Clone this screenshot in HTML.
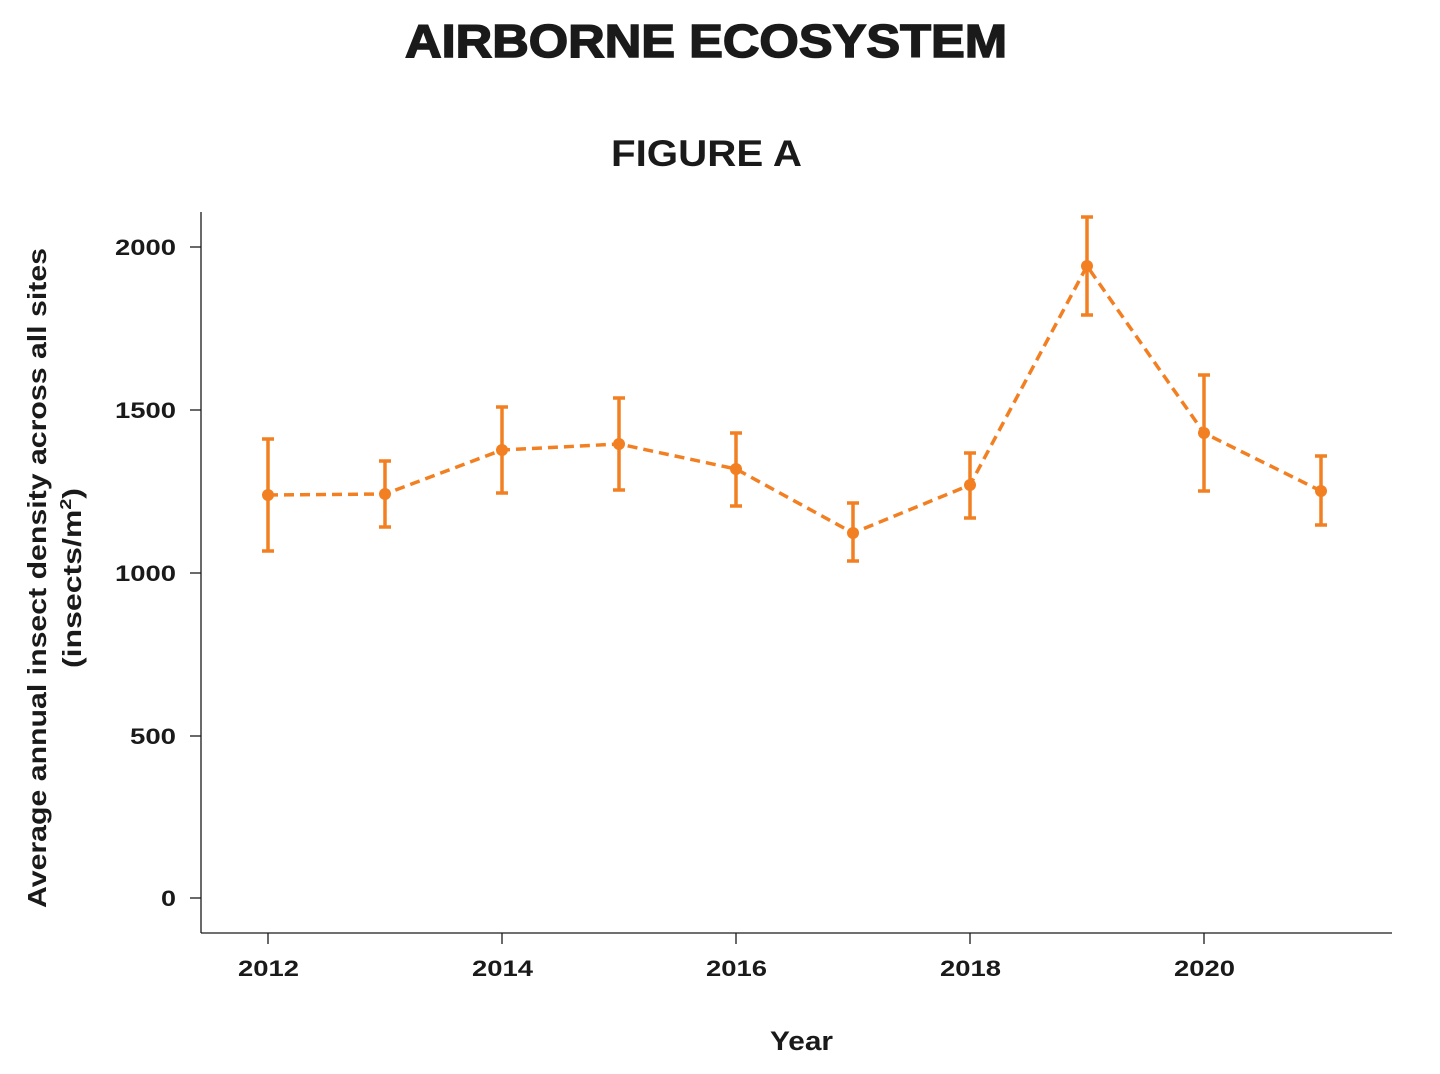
<!DOCTYPE html>
<html><head><meta charset="utf-8"><style>
html,body{margin:0;padding:0;background:#fff;}
svg{display:block;}
text{font-family:"Liberation Sans",Arial,sans-serif;fill:#1a1a1a;}
</style></head><body>
<svg width="1440" height="1074" viewBox="0 0 1440 1074">
<text x="405" y="57" font-size="46" font-weight="900" textLength="602" lengthAdjust="spacingAndGlyphs" stroke="#1a1a1a" stroke-width="1.5">AIRBORNE ECOSYSTEM</text>
<text x="611" y="166" font-size="37" font-weight="bold" textLength="191" lengthAdjust="spacingAndGlyphs">FIGURE A</text>
<g stroke="#1a1a1a" stroke-width="1.3" fill="none">
<line x1="201" y1="212" x2="201" y2="933"/>
<line x1="201" y1="933" x2="1392" y2="933"/>
<line x1="190" y1="247" x2="201" y2="247"/>
<line x1="190" y1="410" x2="201" y2="410"/>
<line x1="190" y1="573" x2="201" y2="573"/>
<line x1="190" y1="736" x2="201" y2="736"/>
<line x1="190" y1="898" x2="201" y2="898"/>
<line x1="268" y1="933" x2="268" y2="944"/>
<line x1="502" y1="933" x2="502" y2="944"/>
<line x1="736" y1="933" x2="736" y2="944"/>
<line x1="970" y1="933" x2="970" y2="944"/>
<line x1="1204" y1="933" x2="1204" y2="944"/>
</g>
<g font-size="22" font-weight="bold">
<text x="115" y="255" textLength="61" lengthAdjust="spacingAndGlyphs">2000</text>
<text x="115" y="418" textLength="61" lengthAdjust="spacingAndGlyphs">1500</text>
<text x="115" y="581" textLength="61" lengthAdjust="spacingAndGlyphs">1000</text>
<text x="130" y="744" textLength="46" lengthAdjust="spacingAndGlyphs">500</text>
<text x="161" y="906" textLength="15" lengthAdjust="spacingAndGlyphs">0</text>
<text x="238" y="976" textLength="61" lengthAdjust="spacingAndGlyphs">2012</text>
<text x="472" y="976" textLength="61" lengthAdjust="spacingAndGlyphs">2014</text>
<text x="706" y="976" textLength="61" lengthAdjust="spacingAndGlyphs">2016</text>
<text x="940" y="976" textLength="61" lengthAdjust="spacingAndGlyphs">2018</text>
<text x="1174" y="976" textLength="61" lengthAdjust="spacingAndGlyphs">2020</text>
</g>
<text x="770" y="1050" font-size="27" font-weight="bold" textLength="63" lengthAdjust="spacingAndGlyphs">Year</text>
<g transform="translate(46,908) rotate(-90)" font-size="26" font-weight="bold">
<text x="0" y="0" textLength="660" lengthAdjust="spacingAndGlyphs">Average annual insect density across all sites</text>
<text x="240" y="35" textLength="180" lengthAdjust="spacingAndGlyphs">(insects/m<tspan font-size="16" dy="-10">2</tspan><tspan dy="10">)</tspan></text>
</g>
<polyline fill="none" stroke="#f28022" stroke-width="3.5" stroke-dasharray="10,6"
points="268,495 385,494 502,450 619,444 736,469 853,533 970,485 1087,266 1204,433 1321,491"/>
<g stroke="#f28022" stroke-width="3.5" fill="none">
<path d="M268,439V551M262,439H274M262,551H274"/>
<path d="M385,461V527M379,461H391M379,527H391"/>
<path d="M502,407V493M496,407H508M496,493H508"/>
<path d="M619,398V490M613,398H625M613,490H625"/>
<path d="M736,433V506M730,433H742M730,506H742"/>
<path d="M853,503V561M847,503H859M847,561H859"/>
<path d="M970,453V518M964,453H976M964,518H976"/>
<path d="M1087,217V315M1081,217H1093M1081,315H1093"/>
<path d="M1204,375V491M1198,375H1210M1198,491H1210"/>
<path d="M1321,456V525M1315,456H1327M1315,525H1327"/>
</g>
<g fill="#f28022">
<circle cx="268" cy="495" r="6"/><circle cx="385" cy="494" r="6"/><circle cx="502" cy="450" r="6"/>
<circle cx="619" cy="444" r="6"/><circle cx="736" cy="469" r="6"/><circle cx="853" cy="533" r="6"/>
<circle cx="970" cy="485" r="6"/><circle cx="1087" cy="266" r="6"/><circle cx="1204" cy="433" r="6"/>
<circle cx="1321" cy="491" r="6"/>
</g>
</svg>
</body></html>
